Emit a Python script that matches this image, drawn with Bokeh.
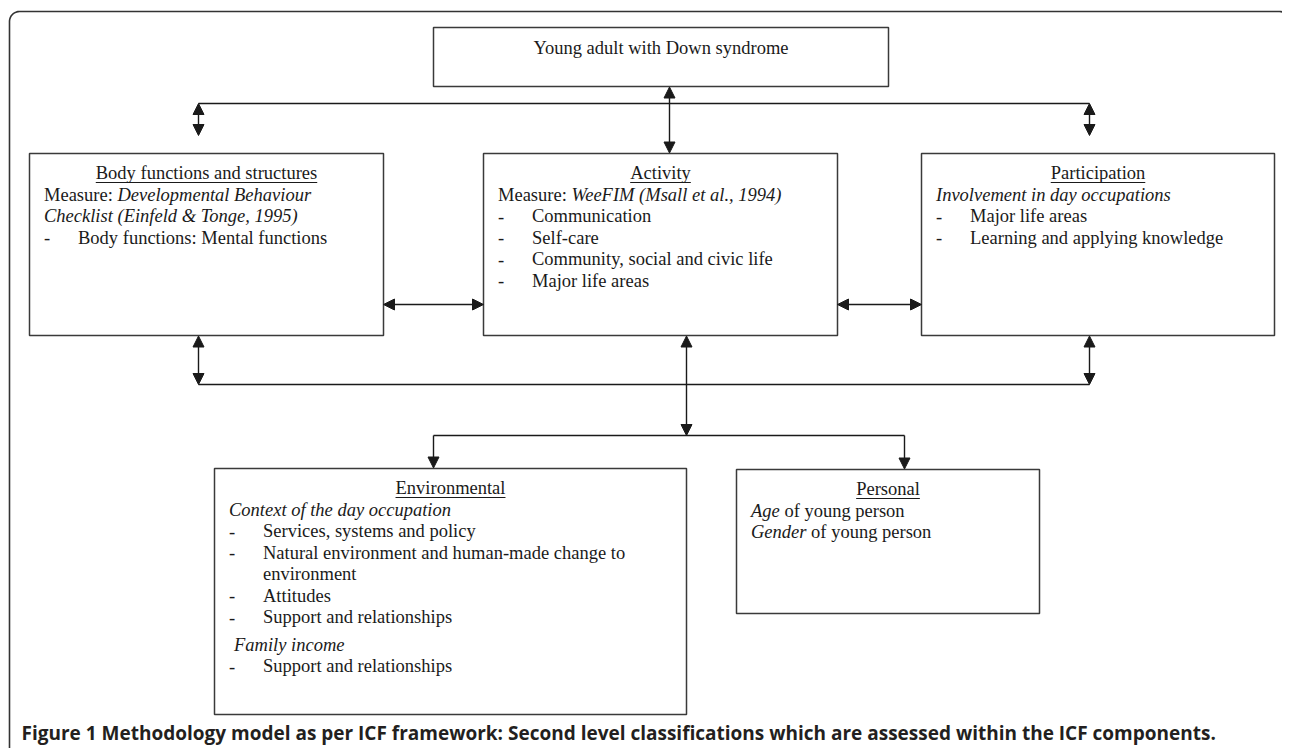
import numpy as np
from bokeh.plotting import figure
from bokeh.models import Range1d, ColumnDataSource, Arrow, NormalHead
from bokeh.core.properties import value
from bokeh.embed import file_html
from bokeh.resources import INLINE

# ---------------- content ----------------
top_label = "Young adult with Down syndrome"
box_titles = ["Body functions and structures", "Activity", "Participation",
              "Environmental", "Personal"]
measure_word = "Measure: "
body_measure = ["Developmental Behaviour", "Checklist (Einfeld & Tonge, 1995)"]
body_items = ["Body functions: Mental functions"]
activity_measure = "WeeFIM (Msall et al., 1994)"
activity_items = ["Communication", "Self-care", "Community, social and civic life",
                  "Major life areas"]
participation_heading = "Involvement in day occupations"
participation_items = ["Major life areas", "Learning and applying knowledge"]
env_heading = "Context of the day occupation"
env_items = ["Services, systems and policy",
             "Natural environment and human-made change to"]
env_continuation = "environment"
env_items_b = ["Attitudes", "Support and relationships"]
env_heading2 = "Family income"
env_items2 = ["Support and relationships"]
personal_italic = ["Age", "Gender"]
personal_rest = " of young person"
caption = ("Figure 1 Methodology model as per ICF framework: Second level "
           "classifications which are assessed within the ICF components.")

# ---------------- layout (reference pixel space) ----------------
FS = 18.5
LH = 21.5
SERIF = "Liberation Serif"
INK = "#1a1a1a"
BOX = "#3a3a3a"

boxes = {
    "top": (433, 27, 888, 86),
    "body": (29, 153, 383, 335),
    "activity": (483, 153, 837, 335),
    "participation": (921, 153, 1274, 335),
    "environmental": (214, 468, 686, 714),
    "personal": (736, 469, 1039, 613),
}

ROMAN = dict(zip("ABCDEFGHIJKLMNOPQRSTUVWXYZ",
                 [722, 667, 667, 722, 611, 556, 722, 722, 333, 389, 722, 611, 889,
                  722, 722, 556, 722, 667, 556, 611, 722, 722, 944, 722, 722, 611]))
ROMAN.update(dict(zip("abcdefghijklmnopqrstuvwxyz",
                      [444, 500, 444, 500, 444, 333, 500, 500, 278, 278, 500, 278, 778,
                       500, 500, 500, 500, 333, 389, 278, 500, 500, 722, 500, 500, 444])))
ROMAN.update({" ": 250, ":": 278, ",": 250, "-": 333, ".": 250, "(": 333, ")": 333,
              "&": 778})
ITALIC = {"A": 611, "G": 722, "a": 500, "d": 500, "e": 444, "g": 500, "n": 500,
          "r": 389, " ": 250}


def tw(s, table):
    return sum(table.get(c, 500) for c in s) * FS / 1000.0


rom = dict(x=[], y=[], text=[])
ita = dict(x=[], y=[], text=[])
ul = dict(x0=[], x1=[], y=[])


def put(d, x, y, t):
    d["x"].append(x); d["y"].append(y); d["text"].append(t)


def fill_box(key, title, lines):
    x0, y0, x1, y1 = boxes[key]
    cx = (x0 + x1) / 2
    tx = x0 + 14.5
    ind = 34
    y = y0 + 19.5
    put(rom, cx, y, title)
    w = tw(title, ROMAN)
    ul["x0"].append(cx - w / 2); ul["x1"].append(cx + w / 2); ul["y"].append(y + 9.5)
    for kind, content in lines:
        if kind == "gap":
            y += content
            continue
        y += LH
        if kind == "item":
            put(rom, tx, y, "-"); put(rom, tx + ind, y, content)
        elif kind == "cont":
            put(rom, tx + ind, y, content)
        elif kind == "italic":
            put(ita, tx, y, content)
        elif kind == "italic_in":
            put(ita, tx + 5, y, content)
        elif kind == "mixed":
            xx = tx
            for t, st in content:
                tbl = ITALIC if st == "italic" else ROMAN
                lead = len(t) - len(t.lstrip(" "))
                xx += tw(" " * lead, tbl)
                put(ita if st == "italic" else rom, xx, y, t.strip(" "))
                xx += tw(t.lstrip(" "), tbl)


fill_box("body", box_titles[0],
         [("mixed", [(measure_word, "normal"), (body_measure[0], "italic")]),
          ("italic", body_measure[1])] + [("item", s) for s in body_items])
fill_box("activity", box_titles[1],
         [("mixed", [(measure_word, "normal"), (activity_measure, "italic")])]
         + [("item", s) for s in activity_items])
fill_box("participation", box_titles[2],
         [("italic", participation_heading)] + [("item", s) for s in participation_items])
fill_box("environmental", box_titles[3],
         [("italic", env_heading)] + [("item", s) for s in env_items]
         + [("cont", env_continuation)] + [("item", s) for s in env_items_b]
         + [("gap", 6), ("italic_in", env_heading2)] + [("item", s) for s in env_items2])
fill_box("personal", box_titles[4],
         [("mixed", [(a, "italic"), (personal_rest, "normal")]) for a in personal_italic])

# ---------------- figure ----------------
p = figure(width=1282, height=748, x_range=Range1d(0, 1282), y_range=Range1d(748, 0),
           output_backend="svg", toolbar_location=None, min_border=0)
p.axis.visible = False
p.grid.visible = False
p.outline_line_color = None
p.background_fill_color = "white"
p.border_fill_color = "white"

# outer rounded frame
r = 10
a1 = np.linspace(np.pi, 1.5 * np.pi, 12)
a2 = np.linspace(1.5 * np.pi, 2 * np.pi, 12)
fx = np.concatenate([[9], 19 + r * np.cos(a1), 1279 + r * np.cos(a2), [1289]])
fy = np.concatenate([[760], 21 + r * np.sin(a1), 21 + r * np.sin(a2), [40]])
p.line(fx, fy, line_color="#333333", line_width=1.6)

# boxes
bk = list(boxes.keys())
p.quad(left=[boxes[k][0] for k in bk], right=[boxes[k][2] for k in bk],
       top=[boxes[k][1] for k in bk], bottom=[boxes[k][3] for k in bk],
       fill_color=None, line_color=BOX, line_width=1.5)

# connector lines
p.segment(x0=[198, 198, 433], y0=[103, 384, 435], x1=[1089, 1089, 904],
          y1=[103, 384, 435], line_color=INK, line_width=1.4)

both = ColumnDataSource(dict(
    x0=[669, 198, 1089, 383, 837, 198, 1089, 686],
    y0=[86.5, 103, 103, 304, 304, 335.5, 335.5, 335.5],
    x1=[669, 198, 1089, 483, 921, 198, 1089, 686],
    y1=[152.5, 135, 135, 304, 304, 384, 384, 435]))
p.add_layout(Arrow(source=both, x_start="x0", y_start="y0", x_end="x1", y_end="y1",
                   line_color=INK, line_width=1.4,
                   start=NormalHead(size=11, fill_color=INK, line_color=INK, line_width=1),
                   end=NormalHead(size=11, fill_color=INK, line_color=INK, line_width=1)))
single = ColumnDataSource(dict(x0=[433, 904], y0=[435, 435], x1=[433, 904], y1=[467.5, 468.5]))
p.add_layout(Arrow(source=single, x_start="x0", y_start="y0", x_end="x1", y_end="y1",
                   line_color=INK, line_width=1.4, start=None,
                   end=NormalHead(size=11, fill_color=INK, line_color=INK, line_width=1)))

# texts
p.text(x=[660.5], y=[47], text=[top_label], text_font=value(SERIF),
       text_font_size=f"{FS}px", text_align="center", text_baseline="middle",
       text_color=INK)
titles_set = set(box_titles)
src_r = ColumnDataSource(dict(
    x=rom["x"], y=rom["y"], text=rom["text"],
    align=["center" if t in titles_set else "left" for t in rom["text"]]))
p.text(x="x", y="y", text="text", text_align="align", source=src_r,
       text_font=value(SERIF), text_font_size=f"{FS}px", text_baseline="middle",
       text_color=INK)
p.text(x="x", y="y", text="text", source=ColumnDataSource(ita),
       text_font=value(SERIF), text_font_size=f"{FS}px", text_font_style="italic",
       text_align="left", text_baseline="middle", text_color=INK)
p.segment(x0=ul["x0"], y0=ul["y"], x1=ul["x1"], y1=ul["y"], line_color=INK, line_width=1.2)

# caption
p.text(x=[21], y=[732], text=[caption], text_font=value("Open Sans"),
       text_font_size="19px", text_font_style="bold", text_align="left",
       text_baseline="middle", text_color="#231f20")

open("out.html", "w").write(file_html(p, INLINE))
